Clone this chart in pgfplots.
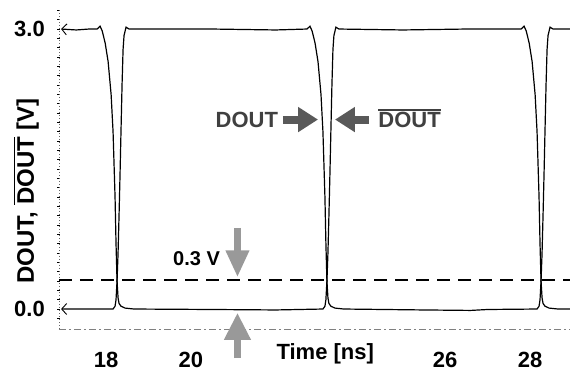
\documentclass[border=0pt]{standalone}
\usepackage{fontspec}
\setmainfont{Liberation Sans}
\usepackage{pgfplots}
\pgfplotsset{compat=1.18}
\usetikzlibrary{arrows.meta}
\newcommand\ovl[1]{\vbox{\hrule height 1.8pt\kern 1.8pt\hbox{#1}}}
\newcommand\bigf{\fontsize{22}{24}\selectfont\bfseries}
\begin{document}
\begin{tikzpicture}
\useasboundingbox (-59pt,-45pt) rectangle (511pt,329pt);
\begin{axis}[
  scale only axis, width=511pt, height=319pt,
  at={(0,0)}, anchor=south west,
  xmin=16.891, xmax=28.943, ymin=-0.214, ymax=3.204,
  axis x line*=bottom, axis y line*=left,
  x axis line style={black!50, line width=0.8pt, dash pattern=on 7pt off 3pt on 2pt off 3pt},
  y axis line style={black!60, line width=0.6pt, dash pattern=on 0.6pt off 2.4pt},
  xtick={18,20,26,28}, xticklabels={18,20,26,28},
  ytick={0,3}, yticklabels={0.0,3.0},
  minor ytick={-0.1,0,...,3.2},
  major tick length=0pt, minor tick length=3pt,
  tick align=center,
  minor tick style={black, line width=0.6pt},
  xticklabel style={font=\bigf, anchor=base, inner sep=0pt, yshift=-39pt},
  yticklabel style={font=\bigf, anchor=east, inner sep=0pt, xshift=-14pt},
  clip=false,
]
% 0.3 V threshold line
\addplot[black, line width=2.6pt, dash pattern=on 13pt off 8pt] coordinates {(16.891,0.31) (28.943,0.31)};
% DOUT-bar
\addplot[black, line width=1.2pt, {Straight Barb[length=5pt,width=11pt,line width=0.9pt]}-] coordinates {
(16.94,3.0) (17.3,2.99) (17.6,3.0) (17.79,3.0) (17.86,3.03) (17.91,2.98) (17.98,2.85) (18.05,2.65) (18.12,2.3) (18.166,1.9) (18.213,1.2) (18.236,0.7) (18.26,0.3) (18.284,0.12) (18.307,0.06) (18.354,0.03) (18.45,0.01) (18.66,0.0) (20.5,-0.005) (22.0,-0.01) (23.116,0.0) (23.163,0.03) (23.186,0.1) (23.21,0.3) (23.234,0.6) (23.257,1.0) (23.281,1.45) (23.304,1.92) (23.328,2.4) (23.352,2.78) (23.375,2.93) (23.422,3.02) (23.493,3.0) (25.0,2.99) (26.5,3.0) (27.79,3.0) (27.86,3.03) (27.91,2.98) (27.98,2.85) (28.05,2.65) (28.12,2.3) (28.166,1.9) (28.213,1.2) (28.236,0.7) (28.26,0.3) (28.284,0.12) (28.307,0.06) (28.354,0.03) (28.45,0.01) (28.66,0.0) (28.943,0.0)
};
% DOUT
\addplot[black, line width=1.2pt, {Straight Barb[length=5pt,width=11pt,line width=0.9pt]}-] coordinates {
(16.94,0.0) (17.5,0.0) (18.166,0.0) (18.213,0.03) (18.236,0.1) (18.26,0.3) (18.284,0.6) (18.307,1.0) (18.331,1.45) (18.354,1.92) (18.378,2.4) (18.402,2.78) (18.425,2.93) (18.472,3.02) (18.543,3.0) (20.5,3.0) (22.0,2.99) (22.74,3.0) (22.81,3.03) (22.86,2.98) (22.93,2.85) (23.00,2.65) (23.07,2.3) (23.116,1.9) (23.163,1.2) (23.186,0.7) (23.21,0.3) (23.234,0.12) (23.257,0.06) (23.304,0.03) (23.40,0.01) (23.61,0.0) (25.5,-0.01) (26.6,-0.015) (27.0,-0.005) (28.166,0.0) (28.213,0.03) (28.236,0.1) (28.26,0.3) (28.284,0.6) (28.307,1.0) (28.331,1.45) (28.354,1.92) (28.378,2.4) (28.402,2.78) (28.425,2.93) (28.472,3.02) (28.543,3.0) (28.943,3.0)
};
% annotation arrows
\draw[black!65, line width=8pt, -{Triangle[length=20pt,width=24pt]}] (axis cs:22.17,2.03) -- (axis cs:23.0,2.03);
\draw[black!65, line width=8pt, -{Triangle[length=20pt,width=24pt]}] (axis cs:24.2,2.03) -- (axis cs:23.40,2.03);
\draw[black!40, line width=7pt, -{Triangle[length=27pt,width=22pt]}] (axis cs:21.10,0.87) -- (axis cs:21.10,0.34);
\draw[black!40, line width=7pt, -{Triangle[length=27pt,width=25pt]}] (axis cs:21.10,-0.525) -- (axis cs:21.10,-0.04);
% texts
\node[font=\bigf, text=black!75, anchor=base east, inner sep=0pt] at (axis cs:22.06,1.94) {DOUT};
\node[font=\bigf, text=black!75, anchor=base west, inner sep=0pt] at (axis cs:24.42,1.94) {\ovl{DOUT}};
\node[font=\fontsize{20}{22}\selectfont\bfseries, anchor=base east, inner sep=0pt] at (axis cs:20.69,0.47) {0.3 V};
\node[font=\bigf, anchor=base, inner sep=0pt] at ([yshift=-31pt]axis cs:23.17,-0.214) {Time [ns]};
\node[font=\fontsize{24}{26}\selectfont\bfseries, rotate=90, anchor=base, inner sep=0pt] at ([xshift=-25pt]axis description cs:0,0.433) {DOUT, \ovl{DOUT} [V]};
\end{axis}
\end{tikzpicture}
\end{document}
